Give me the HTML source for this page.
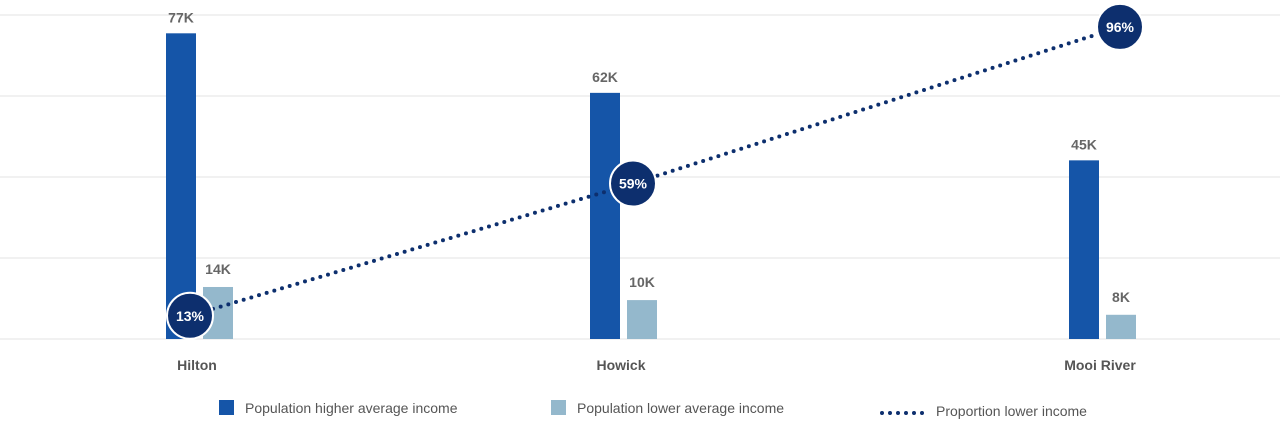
<!DOCTYPE html>
<html><head><meta charset="utf-8"><style>
body{margin:0;background:#fff;font-family:"Liberation Sans",sans-serif;}
svg text{font-family:"Liberation Sans",sans-serif;}
</style></head><body>
<svg id="c" width="1280" height="438" xmlns="http://www.w3.org/2000/svg"></svg>
<script>
const categories=["Hilton","Howick","Mooi River"];
const higherIncome=[77,62,45];
const higherLabels=["77K","62K","45K"];
const lowerIncome=[13.1,9.8,6.1];
const lowerLabels=["14K","10K","8K"];
const proportion=[13,51,96];
const proportionLabels=["13%","59%","96%"];
const gridTicks=[0,20.4,40.8,61.2,81.6];

const NS="http://www.w3.org/2000/svg";
const svg=document.getElementById("c");
function mk(t,a,p){const e=document.createElementNS(NS,t);for(const k in a)e.setAttribute(k,a[k]);(p||svg).appendChild(e);return e;}
const base=339;
const y=v=>base-v*3.97;
const x=i=>199+i*424+i*(i-1)/2*55;
const yp=v=>361-v*3.48;
const xp=i=>190+i*443+i*(i-1)/2*44;

gridTicks.forEach(t=>{
  const l=mk("line",{x1:0,x2:1280,y1:y(t),y2:y(t),stroke:"#e3e3e3","stroke-width":1});
  
  
});
categories.forEach((c,i)=>{
  const cx=x(i);
  const b1=mk("rect",{x:cx-33,y:y(higherIncome[i]),width:30,height:base-y(higherIncome[i]),fill:"#1555a8"});
  
  
  const t1=mk("text",{x:cx-18,y:y(higherIncome[i])-11,"text-anchor":"middle","font-size":14,"font-weight":"bold",fill:"#666"});
  t1.textContent=higherLabels[i];
  
  
  const b2=mk("rect",{x:cx+4,y:y(lowerIncome[i]),width:30,height:base-y(lowerIncome[i]),fill:"#94b8cc"});
  
  
  const t2=mk("text",{x:cx+19,y:y(lowerIncome[i])-13,"text-anchor":"middle","font-size":14,"font-weight":"bold",fill:"#666"});
  t2.textContent=lowerLabels[i];
  
  
  const cl=mk("text",{x:cx-2,y:370,"text-anchor":"middle","font-size":14,"font-weight":"bold",fill:"#555"});
  cl.textContent=c;
  
  
});
const pts=proportion.map((v,i)=>xp(i)+","+yp(v)).join(" ");
const pl=mk("polyline",{points:pts,fill:"none",stroke:"#0d2f6e","stroke-width":4,"stroke-dasharray":"0 8","stroke-linecap":"round"});


proportion.forEach((v,i)=>{
  const c=mk("circle",{cx:xp(i),cy:yp(v),r:23,fill:"#0d2f6e",stroke:"#fff","stroke-width":2});
  
  
  const t=mk("text",{x:xp(i),y:yp(v)+5,"text-anchor":"middle","font-size":14,"font-weight":"bold",fill:"#fff"});
  t.textContent=proportionLabels[i];
  
  
});
</script>
<div style="position:absolute;left:0;top:0;width:1280px;height:438px;pointer-events:none;font-size:14px;color:#555;">
  <div style="position:absolute;left:219px;top:400px;white-space:nowrap;"><span style="display:inline-block;width:15px;height:15px;background:#1555a8;vertical-align:-2px;margin-right:11px"></span>Population higher average income</div>
  <div style="position:absolute;left:551px;top:400px;white-space:nowrap;"><span style="display:inline-block;width:15px;height:15px;background:#94b8cc;vertical-align:-2px;margin-right:11px"></span>Population lower average income</div>
  <div style="position:absolute;left:880px;top:403px;white-space:nowrap;"><svg width="50" height="10" style="vertical-align:0px;margin-right:6px"><line x1="2" y1="7" x2="50" y2="7" stroke="#0d2f6e" stroke-width="4" stroke-dasharray="0 8" stroke-linecap="round"/></svg>Proportion lower income</div>
</div>
</body></html>
